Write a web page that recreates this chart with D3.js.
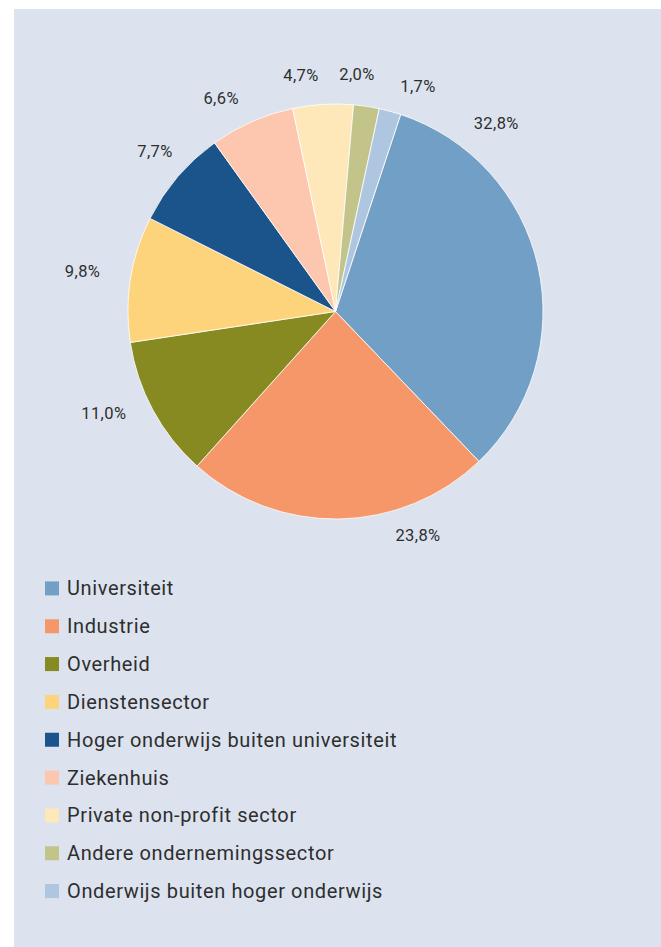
<!DOCTYPE html>
<html><head><meta charset="utf-8">
<script src="https://cdn.jsdelivr.net/npm/d3@7"></script>
<style>
html,body{margin:0;padding:0;background:#fff;}
svg{display:block;}
text{font-family:Roboto,"DejaVu Sans",sans-serif;fill:#2e2e2e;}
</style></head>
<body>
<script>
// ---- data ----
const categories = ["Universiteit","Industrie","Overheid","Dienstensector","Hoger onderwijs buiten universiteit","Ziekenhuis","Private non-profit sector","Andere ondernemingssector","Onderwijs buiten hoger onderwijs"];
const shares = [32.8, 23.8, 11.0, 9.8, 7.7, 6.6, 4.7, 2.0, 1.7];
const valueLabels = ["32,8%","23,8%","11,0%","9,8%","7,7%","6,6%","4,7%","2,0%","1,7%"];
const colors = ["#729fc6","#f6976a","#878a20","#fdd47c","#1b548a","#fdc6ae","#fee8b9","#c2c48a","#aec6e0"];
// label placement (layout): angle in degrees clockwise from top, distance from centre
const labelAngles = [40.6, 159.8, 246.3, 278.9, 311.5, 331.8, 351.7, 5.2, 20.1];
const labelRadii = [247, 239, 253, 256, 241, 242, 239, 237.5, 240];

const W = 661, H = 947;
const svg = d3.select("body").append("svg").attr("width", W).attr("height", H);
svg.append("rect").attr("x", 14).attr("y", 9).attr("width", W - 14).attr("height", H - 9).attr("fill", "#dce3ee");

const cx = 335.5, cy = 311.5, R = 207.5;
const startA = 18.3 * Math.PI / 180;
const pie = d3.pie().sort(null).value(d => d).startAngle(startA).endAngle(startA + 2 * Math.PI);
const arcs = pie(shares);
const arc = d3.arc().innerRadius(0).outerRadius(R);
const g = svg.append("g").attr("transform", `translate(${cx},${cy})`);
g.selectAll("path").data(arcs).join("path")
  .attr("d", arc).attr("fill", (d, i) => colors[i])
  .attr("stroke", "#ffffff").attr("stroke-width", 0.8);

g.selectAll("text.lbl").data(arcs).join("text").attr("class", "lbl")
  .attr("transform", (d, i) => {
    const p = d3.pointRadial(labelAngles[i] * Math.PI / 180, labelRadii[i]);
    return `translate(${p[0]},${p[1]})`;
  })
  .attr("text-anchor", "middle").attr("dominant-baseline", "central")
  .attr("font-size", 16.5).attr("letter-spacing", 0.4)
  .text((d, i) => valueLabels[i]);

// legend
const ly = d3.scaleBand().domain(categories).range([569.5, 910]).paddingInner(0).paddingOuter(0);
const leg = svg.append("g").selectAll("g").data(categories).join("g")
  .attr("transform", d => `translate(45,${ly(d) + ly.bandwidth() / 2})`);
leg.append("rect").attr("x", 0).attr("y", -7).attr("width", 14).attr("height", 14)
  .attr("fill", (d, i) => colors[i]);
leg.append("text").attr("x", 22).attr("y", 0).attr("dominant-baseline", "central")
  .attr("font-size", 20).attr("letter-spacing", 0.62).text(d => d);
</script>
</body></html>
